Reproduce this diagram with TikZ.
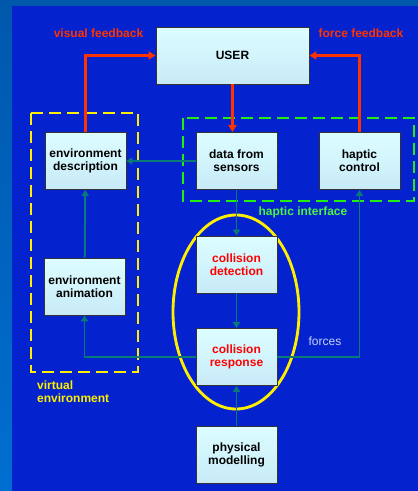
\documentclass[tikz,border=0pt]{standalone}
\usepackage{fontspec}
\setmainfont{Liberation Sans}
\usetikzlibrary{arrows.meta}

\definecolor{bgblue}{HTML}{0423CF}
\definecolor{edgeblue}{HTML}{0058AC}
\definecolor{boxtop}{HTML}{DCFEFF}
\definecolor{boxbot}{HTML}{C8EAF8}
\definecolor{fbred}{HTML}{FF3300}
\definecolor{linkteal}{HTML}{0A7A78}
\definecolor{veyellow}{HTML}{FFEE00}
\definecolor{higreen}{HTML}{22EE11}
\definecolor{forcegray}{HTML}{C8D2F2}

\tikzset{
    blockbox/.style={draw=black!80, line width=0.3mm, top color=boxtop,
        bottom color=boxbot, minimum width=81, minimum height=57,
        align=center, font=\fontsize{12}{13}\selectfont\bfseries},
    redlink/.style={-{Triangle[length=7pt, width=8pt]}, draw=fbred,
        line width=1mm},
    teallink/.style={-{Triangle[length=6pt, width=7pt]}, draw=linkteal,
        line width=0.7mm},
    labeltext/.style={font=\fontsize{12}{13}\selectfont\bfseries, inner sep=0}
}

\begin{document}
\begin{tikzpicture}[x=1pt, y=-1pt]

    \useasboundingbox (0, 0) rectangle (418, 491);

    % background
    \shade[top color=edgeblue, bottom color=edgeblue!70!cyan!80!blue]
        (0, 0) rectangle (418, 491);
    \fill[bgblue] (12, 6) rectangle (418, 491);

    % groups
    \draw[veyellow, line width=1mm, dash pattern=on 12pt off 6pt]
        (31, 113) rectangle (138, 372);
    \draw[higreen, line width=1mm, dash pattern=on 12pt off 6pt]
        (183, 118) rectangle (414, 201);
    \draw[veyellow, line width=1mm] (236, 312) ellipse (63 and 97);

    % blocks
    \node[blockbox, minimum width=153] (user) at (232.5, 55.5) {USER};
    \node[blockbox] (envdesc) at (85.5, 161) {environment\\description};
    \node[blockbox] (sensors) at (236.5, 161) {data from\\sensors};
    \node[blockbox] (haptic) at (359.5, 161) {haptic\\control};
    \node[blockbox] (envanim) at (84.5, 286.5) {environment\\animation};
    \node[blockbox, text=red] (detect) at (236.5, 264.5) {collision\\detection};
    \node[blockbox, text=red] (response) at (236.5, 357) {collision\\response};
    \node[blockbox] (physical) at (236.5, 454.5) {physical\\modelling};

    % feedback to the user
    \draw[redlink] (user.south) -- (user.south |- sensors.north);
    \draw[redlink] (envdesc.north) |- (user.west);
    \draw[redlink] (haptic.north) |- (user.east);

    % data flow
    \draw[teallink] (sensors) -- (envdesc);
    \draw[teallink] (sensors) -- (detect);
    \draw[teallink] (detect) -- (response);
    \draw[teallink] (physical) -- (response);
    \draw[teallink] (envanim) -- (envdesc);
    \draw[teallink] (response.west) -| (envanim.south);
    \draw[teallink] (response.east) -| (haptic.south);

    % labels
    \node[labeltext, fbred] (visual) at (98.5, 33) {visual feedback};
    \node[labeltext, fbred] (force) at (361, 33) {force feedback};
    \node[labeltext, higreen!80!white] (hapint) at (303, 212) {haptic interface};
    \node[labeltext, font=\fontsize{12}{13}\selectfont, forcegray]
        (forces) at (325, 341) {forces};
    \node[labeltext, veyellow, align=left, anchor=west]
        (virtual) at (37, 391.5) {virtual\\environment};

\end{tikzpicture}
\end{document}
